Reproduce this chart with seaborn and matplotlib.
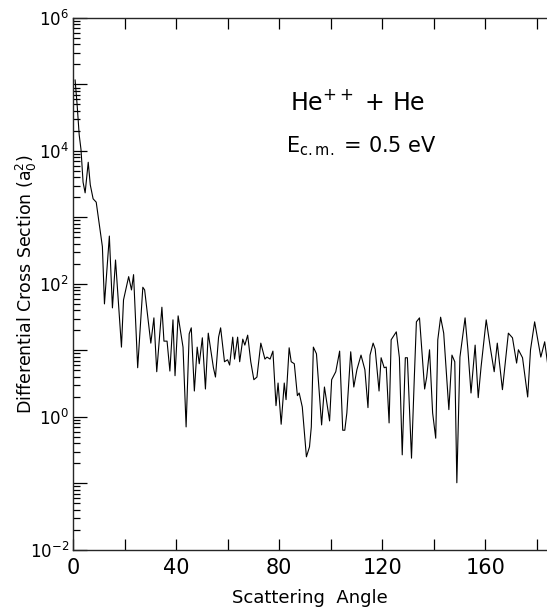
import numpy as np
import seaborn as sns
import matplotlib.pyplot as plt
from matplotlib.ticker import LogLocator, MultipleLocator, FixedLocator, FuncFormatter

# scattering angle (deg)
angle = [0.8, 1.6, 2.4, 3.1, 3.9, 4.7, 5.9, 6.7, 7.8, 9.0,
         11.4, 12.2, 14.1, 15.3, 16.5, 18.8, 19.6, 21.6, 22.7, 23.5,
         25.1, 27.1, 27.8, 30.2, 31.4, 32.5, 34.5, 35.3, 36.5, 37.6,
         38.8, 39.6, 40.8, 42.7, 43.9, 45.1, 45.9, 47.1, 48.2, 49.0,
         50.2, 51.4, 52.5, 54.5, 55.3, 56.5, 57.3, 58.8, 60.0, 60.8,
         62.0, 62.7, 63.9, 64.7, 65.9, 66.7, 67.8, 69.0, 70.2, 71.4,
         72.9, 74.5, 75.3, 76.5, 77.6, 78.8, 79.6, 80.8, 82.0, 82.7,
         83.9, 84.7, 85.9, 87.1, 87.8, 89.0, 90.6, 91.8, 92.5, 93.3,
         94.5, 95.7, 96.5, 97.6, 98.8, 99.6, 100.4, 102.0, 103.5, 104.7,
         105.5, 106.3, 107.8, 109.0, 110.2, 111.8, 113.3, 114.5, 115.3, 116.5,
         117.3, 118.8, 119.6, 120.8, 121.6, 122.7, 123.5, 125.5, 126.7, 127.8,
         129.0, 129.8, 131.4, 132.5, 133.3, 134.5, 136.5, 137.3, 138.4, 139.6,
         140.8, 141.6, 142.7, 143.9, 145.9, 147.1, 148.2, 149.0, 150.2, 152.2,
         153.3, 154.5, 156.1, 157.3, 158.4, 160.4, 162.0, 163.5, 164.7, 166.7,
         169.0, 170.6, 172.2, 172.9, 174.5, 176.5, 177.6, 179.2, 181.6, 183.1,
         185.5]

# log10 of the differential cross section (a0^2)
log_dcs = [5.07, 4.69, 4.24, 4.02, 3.53, 3.37, 3.83, 3.49, 3.28, 3.23,
           2.56, 1.70, 2.72, 1.64, 2.36, 1.05, 1.76, 2.11, 1.91, 2.14,
           0.74, 1.95, 1.91, 1.11, 1.49, 0.68, 1.65, 1.14, 1.14, 0.69,
           1.46, 0.62, 1.52, 1.05, -0.15, 1.25, 1.34, 0.39, 1.05, 0.80,
           1.19, 0.42, 1.26, 0.74, 0.60, 1.20, 1.34, 0.83, 0.86, 0.78,
           1.20, 0.87, 1.20, 0.83, 1.17, 1.08, 1.23, 0.83, 0.56, 0.60,
           1.11, 0.87, 0.90, 0.87, 0.99, 0.17, 0.51, -0.11, 0.51, 0.26,
           1.04, 0.83, 0.80, 0.32, 0.36, 0.15, -0.60, -0.45, -0.15, 1.05,
           0.95, 0.30, -0.12, 0.45, 0.15, -0.06, 0.56, 0.68, 0.99, -0.20,
           -0.20, 0.06, 0.98, 0.45, 0.71, 0.93, 0.71, 0.14, 0.93, 1.11,
           1.02, 0.39, 0.89, 0.74, 0.75, -0.09, 1.16, 1.28, 0.89, -0.57,
           0.89, 0.89, -0.62, 0.60, 1.43, 1.49, 0.42, 0.60, 1.01, 0.06,
           -0.32, 1.16, 1.50, 1.26, 0.11, 0.93, 0.83, -0.99, 0.90, 1.49,
           1.01, 0.36, 1.08, 0.29, 0.75, 1.46, 1.04, 0.68, 1.11, 0.41,
           1.26, 1.19, 0.81, 1.01, 0.89, 0.30, 1.01, 1.43, 0.90, 1.13,
           0.44]

dcs = 10 ** np.array(log_dcs)


def decade_label(v, pos):
    e = int(round(np.log10(v)))
    return "10$^{%d}$" % e if e % 2 == 0 else ""


sns.set_style("ticks")
plt.rcParams["font.family"] = ["DejaVu Sans"]
plt.rcParams["mathtext.fontset"] = "dejavusans"
plt.rcParams["text.color"] = "black"
plt.rcParams["axes.labelcolor"] = "black"

fig = plt.figure(figsize=(5.47, 6.09), dpi=100)
ax = fig.add_axes([0.1335, 0.097, 0.8665, 0.8735])

sns.lineplot(x=angle, y=dcs, color="black", linewidth=0.8, estimator=None, sort=False, ax=ax)

ax.set_yscale("log")
ax.set_ylim(1e-2, 1e6)
ax.set_xlim(0, 184)

ax.xaxis.set_major_locator(MultipleLocator(40))
ax.xaxis.set_minor_locator(FixedLocator([20, 60, 100, 140, 180]))
ax.yaxis.set_major_locator(LogLocator(base=10, numticks=20))
ax.yaxis.set_minor_locator(LogLocator(base=10, subs=np.arange(2, 10), numticks=20))
ax.yaxis.set_major_formatter(FuncFormatter(decade_label))

ax.tick_params(axis="both", which="both", direction="in", top=True, right=False, width=0.9, colors="black")
ax.tick_params(axis="x", which="both", length=8, labelsize=15, pad=6)
ax.tick_params(axis="y", which="major", length=10, labelsize=12, pad=3)
ax.tick_params(axis="y", which="minor", length=5)

for side in ["left", "bottom", "top"]:
    ax.spines[side].set_linewidth(1.0)
ax.spines["right"].set_visible(False)

ax.set_xlabel("Scattering  Angle", fontsize=13, labelpad=8)
ax.set_ylabel("Differential Cross Section (a$_0^2$)", fontsize=12.5)
ax.yaxis.set_label_coords(-0.072, 0.5)

ax.text(0.601, 0.827, "He$^{++}$ + He", transform=ax.transAxes, ha="center", va="baseline", fontsize=17)
ax.text(0.608, 0.748, "E$_{\\rm c.m.}$ = 0.5 eV", transform=ax.transAxes, ha="center", va="baseline", fontsize=15)

plt.savefig("out.png", dpi=100)
plt.close()
